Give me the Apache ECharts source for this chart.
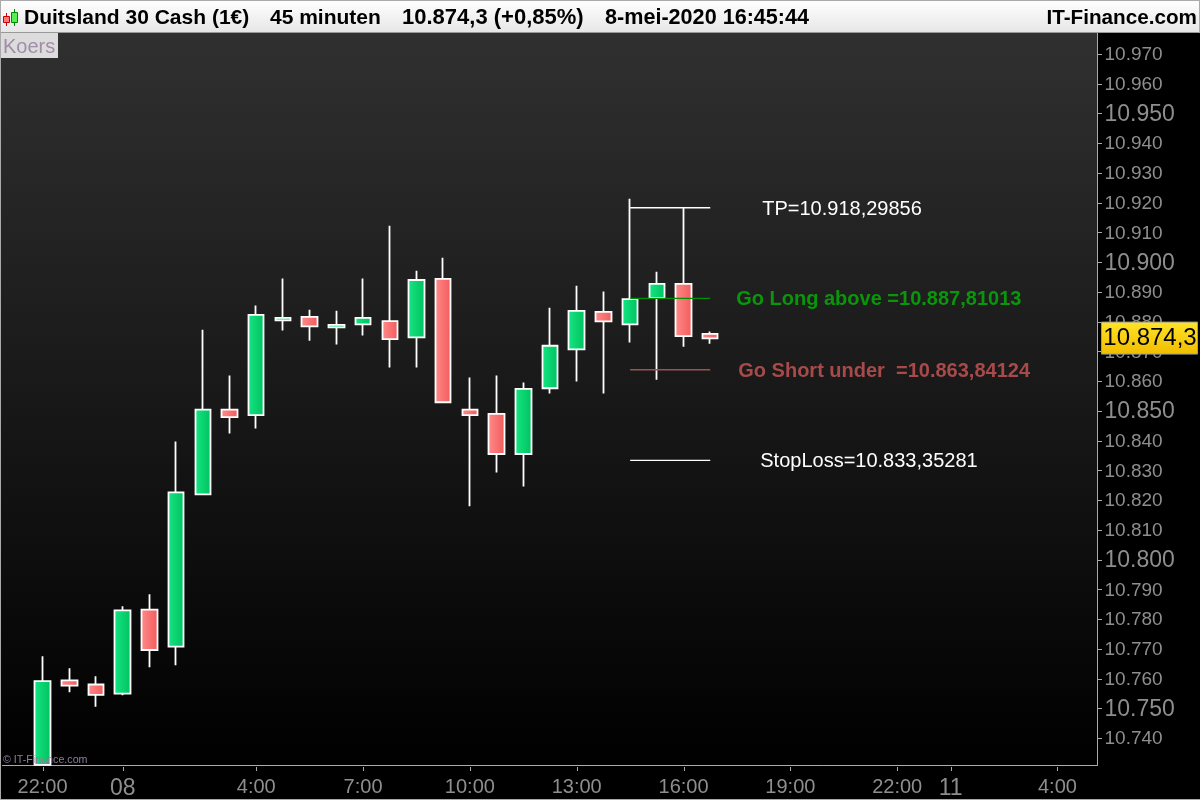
<!DOCTYPE html>
<html>
<head>
<meta charset="utf-8">
<title>Duitsland 30 Cash</title>
<script src="https://cdn.jsdelivr.net/npm/echarts@6/dist/echarts.min.js"></script>
<style>
  html, body { margin: 0; padding: 0; background: #000; }
  #chart { width: 1200px; height: 800px; }
</style>
</head>
<body>
<div id="chart"></div>
<script>
// x axis, one slot per 45 minute bar, empty string = no label
var categories = ['', '22:00', '', '', '08', '', '', '', '', '4:00', '', '', '', '7:00', '', '', '', '10:00', '', '', '',
  '13:00', '', '', '', '16:00', '', '', '', '19:00', '', '', '', '22:00', '', '11', '', '', '', '4:00', ''];
var bigDayLabels = ['08', '11'];

var opens = [10731.0, 10759.4, 10758.0, 10754.9, 10783.2, 10770.7, 10821.9, 10850.4, 10848.6, 10880.4, 10881.6, 10878.1, 10879.1, 10880.2, 10874.7, 10894.4, 10850.4, 10849.0, 10835.5, 10857.6, 10870.7, 10883.3, 10879.1, 10888.0, 10892.7, 10875.9];
var closes = [10759.1, 10757.6, 10754.5, 10782.9, 10769.6, 10822.6, 10850.4, 10847.9, 10882.3, 10881.3, 10878.4, 10878.9, 10881.3, 10874.1, 10894.0, 10852.9, 10848.6, 10835.5, 10857.4, 10871.9, 10883.6, 10880.1, 10887.6, 10892.7, 10875.1, 10874.4];
var lows = [10731.0, 10755.4, 10750.5, 10754.4, 10763.8, 10764.5, 10821.6, 10842.4, 10844.1, 10877.0, 10873.6, 10872.3, 10875.3, 10864.6, 10864.6, 10852.9, 10817.9, 10829.3, 10824.6, 10855.8, 10859.9, 10855.8, 10873.0, 10860.5, 10871.6, 10872.6];
var highs = [10767.5, 10763.5, 10760.8, 10784.3, 10788.3, 10839.7, 10877.3, 10861.9, 10885.4, 10894.5, 10884.0, 10883.7, 10894.5, 10912.2, 10897.1, 10901.5, 10861.2, 10861.9, 10859.5, 10884.7, 10892.1, 10890.1, 10921.3, 10896.8, 10918.3, 10876.7];

var yTicks = [10740, 10750, 10760, 10770, 10780, 10790, 10800, 10810, 10820, 10830, 10840, 10850, 10860, 10870, 10880,
  10890, 10900, 10910, 10920, 10930, 10940, 10950, 10960, 10970];
var yBigTicks = [10750, 10800, 10850, 10900, 10950];

var levelNames = ['TP=10.918,29856', 'Go Long above =10.887,81013', 'Go Short under  =10.863,84124', 'StopLoss=10.833,35281'];
var levelValues = [10918.29856, 10887.81013, 10863.84124, 10833.35281];
var levelColors = ['#ffffff', '#009000', '#a05050', '#ffffff'];
var levelTextColors = ['#ffffff', '#0a960a', '#a84a4a', '#ffffff'];
var levelBold = [false, true, true, false];
var levelLabelGaps = [52, 26, 28, 50];
var levelFrom = 23;
var levelTo = 26;

var lastPrice = 10874.3;
var lastPriceText = '10.874,3';

var FONT = '"Liberation Sans", Arial, sans-serif';
var GRAY = '#8e8e8e';

function candleData() {
  var res = [['-', '-', '-', '-']];
  for (var i = 0; i < opens.length; i++) {
    res.push([opens[i], closes[i], lows[i], highs[i]]);
  }
  return res;
}

function sideGradient(from, to) {
  return new echarts.graphic.LinearGradient(0, 0, 1, 0, [
    { offset: 0, color: from },
    { offset: 1, color: to }
  ]);
}

function plotGradient() {
  return new echarts.graphic.LinearGradient(0, 0, 0, 1, [
    { offset: 0, color: '#303030' },
    { offset: 1, color: '#000000' }
  ]);
}

function tickText(v) {
  var s = String(v);
  return s.slice(0, 2) + '.' + s.slice(2);
}

var levelSeries = levelValues.map(function (v, i) {
  return {
    name: levelNames[i],
    type: 'line',
    symbol: 'none',
    silent: true,
    animation: false,
    z: 5,
    lineStyle: { color: levelColors[i], width: 1.4 },
    data: [[levelFrom, v], [levelTo, v]],
    endLabel: {
      show: true,
      formatter: levelNames[i],
      distance: levelLabelGaps[i],
      offset: [0, 1.5],
      color: levelTextColors[i],
      fontFamily: FONT,
      fontSize: 20,
      fontWeight: levelBold[i] ? 'bold' : 'normal'
    }
  };
});

var chart = echarts.init(document.getElementById('chart'));
chart.setOption({
  animation: false,
  backgroundColor: '#000',
  grid: {
    show: true,
    left: 2.5,
    top: 33,
    width: 1095,
    height: 733,
    borderWidth: 0,
    backgroundColor: plotGradient()
  },
  xAxis: {
    type: 'category',
    data: categories,
    boundaryGap: true,
    axisLine: { lineStyle: { color: '#aaa', width: 1 } },
    axisTick: { show: false },
    splitLine: { show: false },
    axisLabel: {
      interval: function (i, v) { return v !== ''; },
      margin: 12,
      color: GRAY,
      fontFamily: FONT,
      fontSize: 20,
      formatter: function (v) {
        return bigDayLabels.indexOf(v) >= 0 ? '{big|' + v + '}' : v;
      },
      rich: { big: { fontSize: 23, color: GRAY, fontFamily: FONT } }
    }
  },
  yAxis: {
    type: 'value',
    position: 'right',
    min: 10730.93,
    max: 10977.05,
    scale: true,
    axisLine: { show: true, lineStyle: { color: '#aaa', width: 1 } },
    axisTick: { show: false },
    splitLine: { show: false },
    axisLabel: {
      customValues: yTicks,
      margin: 7,
      padding: [2, 0, 0, 0],
      color: GRAY,
      fontFamily: FONT,
      fontSize: 19,
      formatter: function (v) {
        var t = tickText(v);
        return yBigTicks.indexOf(v) >= 0 ? '{big|' + t + '}' : t;
      },
      rich: { big: { fontSize: 23, color: GRAY, fontFamily: FONT } }
    }
  },
  series: [{
    name: 'Koers',
    type: 'candlestick',
    silent: true,
    barWidth: 16,
    clip: true,
    z: 3,
    itemStyle: {
      color: sideGradient('#16e684', '#00c05e'),
      color0: sideGradient('#ff8c8c', '#f25a5a'),
      borderColor: '#fff',
      borderColor0: '#fff',
      borderWidth: 1.8
    },
    data: candleData()
  }].concat(levelSeries)
});

function headerText(str, x, anchor, size) {
  return {
    type: 'text',
    z: 20,
    x: x,
    y: 18,
    style: {
      text: str,
      fill: '#000',
      font: 'bold ' + size + 'px ' + FONT,
      textAlign: anchor,
      textVerticalAlign: 'middle'
    }
  };
}

var priceY = chart.convertToPixel({ yAxisIndex: 0 }, lastPrice);

// tick marks, placed from the axes' own scales
var tickMarks = [];
yTicks.forEach(function (v) {
  var py = Math.round(chart.convertToPixel({ yAxisIndex: 0 }, v));
  tickMarks.push({ type: 'rect', z: 9, shape: { x: 1098, y: py, width: 4, height: 1 }, style: { fill: '#aaa' } });
});
categories.forEach(function (c, i) {
  if (c === '') return;
  var px = Math.round(chart.convertToPixel({ xAxisIndex: 0 }, i));
  tickMarks.push({ type: 'rect', z: 9, shape: { x: px, y: 767, width: 1, height: 4 }, style: { fill: '#aaa' } });
});

chart.setOption({
  graphic: tickMarks.concat([
    // first pixels of the plot, left of the grid
    { type: 'rect', z: 0, shape: { x: 1, y: 33, width: 2, height: 733 }, style: { fill: plotGradient() } },
    // header bar
    {
      type: 'rect', z: 10, shape: { x: 0, y: 0, width: 1200, height: 33 },
      style: {
        fill: new echarts.graphic.LinearGradient(0, 0, 0, 1, [
          { offset: 0, color: '#ffffff' },
          { offset: 1, color: '#e6e6e6' }
        ])
      }
    },
    { type: 'rect', z: 11, shape: { x: 0, y: 0, width: 1200, height: 1 }, style: { fill: '#aaa' } },
    { type: 'rect', z: 11, shape: { x: 0, y: 32, width: 1200, height: 1 }, style: { fill: '#999' } },
    // window edges
    { type: 'rect', z: 11, shape: { x: 0, y: 0, width: 1, height: 800 }, style: { fill: '#aaa' } },
    { type: 'rect', z: 11, shape: { x: 1199, y: 0, width: 1, height: 33 }, style: { fill: '#aaa' } },
    { type: 'rect', z: 11, shape: { x: 0, y: 799, width: 1200, height: 1 }, style: { fill: '#aaa' } },
    // small candle icon
    { type: 'rect', z: 12, shape: { x: 6, y: 13, width: 1, height: 13 }, style: { fill: '#c00' } },
    { type: 'rect', z: 12, shape: { x: 3.5, y: 16.5, width: 6, height: 6 }, style: { fill: '#f77', stroke: '#c00', lineWidth: 1 } },
    { type: 'rect', z: 12, shape: { x: 14, y: 9, width: 1, height: 17 }, style: { fill: '#080' } },
    { type: 'rect', z: 12, shape: { x: 11.5, y: 12.5, width: 6, height: 10 }, style: { fill: '#5e5', stroke: '#080', lineWidth: 1 } },
    headerText('Duitsland 30 Cash (1€)', 24, 'left', 21),
    headerText('45 minuten', 270, 'left', 21),
    headerText('10.874,3 (+0,85%)', 402, 'left', 22),
    headerText('8-mei-2020 16:45:44', 605, 'left', 21.6),
    headerText('IT-Finance.com', 1197, 'right', 20.7),
    // series name tag
    { type: 'rect', z: 12, shape: { x: 1, y: 33, width: 57, height: 25 }, style: { fill: '#dcdcdc' } },
    {
      type: 'text', z: 13, x: 3, y: 47,
      style: { text: 'Koers', fill: '#a08ea6', font: '20px ' + FONT, textVerticalAlign: 'middle' }
    },
    // copyright
    {
      type: 'text', z: 13, x: 3, y: 760,
      style: { text: '© IT-Finance.com', fill: '#8e7e9a', font: '10.7px ' + FONT, textVerticalAlign: 'middle' }
    },
    // last price tag
    {
      type: 'rect', z: 14, shape: { x: 1101.5, y: priceY - 16.5, width: 96, height: 32 },
      style: {
        fill: new echarts.graphic.LinearGradient(0, 0, 0, 1, [
          { offset: 0, color: '#ffe428' },
          { offset: 1, color: '#f0bc00' }
        ]),
        stroke: '#999',
        lineWidth: 1
      }
    },
    {
      type: 'text', z: 15, x: 1150, y: priceY,
      style: {
        text: lastPriceText, fill: '#000', font: '24px ' + FONT,
        textAlign: 'center', textVerticalAlign: 'middle'
      }
    }
  ])
});
</script>
</body>
</html>
